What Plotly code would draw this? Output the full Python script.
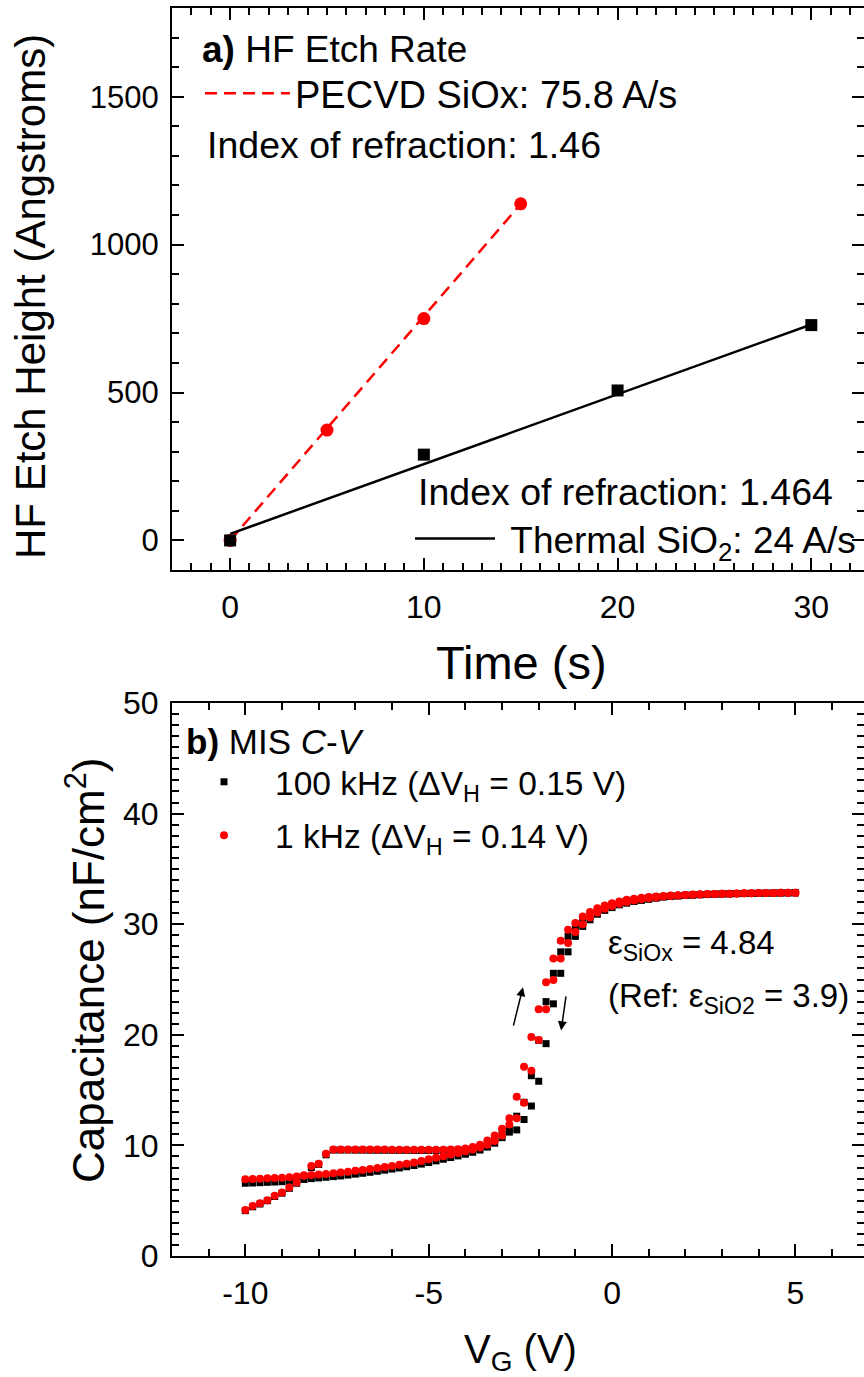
import plotly.graph_objects as go

W, H = 864, 1377
FONT = "Liberation Sans, Arial, sans-serif"

# ---------------- panel a: HF etch rate ----------------
time_pecvd = [0, 5, 10, 15]
height_pecvd = [0, 373, 750, 1138]
time_thermal = [0, 10, 20, 30]
height_thermal = [0, 290, 507, 728]
pecvd_fit_time = [0, 15]
pecvd_fit_height = [0, 1137]
thermal_fit_time = [0, 30]
thermal_fit_height = [22, 730]

# ---------------- panel b: MIS C-V ----------------
vg = [-10.0, -9.8, -9.6, -9.4, -9.2, -9.0, -8.8, -8.6, -8.4, -8.2,
      -8.0, -7.8, -7.6, -7.4, -7.2, -7.0, -6.8, -6.6, -6.4, -6.2,
      -6.0, -5.8, -5.6, -5.4, -5.2, -5.0, -4.8, -4.6, -4.4, -4.2,
      -4.0, -3.8, -3.6, -3.4, -3.2, -3.0, -2.8, -2.6, -2.4, -2.2,
      -2.0, -1.8, -1.6, -1.4, -1.2, -1.0, -0.8, -0.6, -0.4, -0.2,
      0.0, 0.2, 0.4, 0.6, 0.8, 1.0, 1.2, 1.4, 1.6, 1.8,
      2.0, 2.2, 2.4, 2.6, 2.8, 3.0, 3.2, 3.4, 3.6, 3.8,
      4.0, 4.2, 4.4, 4.6, 4.8, 5.0]

c_1k_fwd = [4.17, 4.53, 4.77, 5.05, 5.44, 5.74, 6.19, 6.64, 7.30, 8.14,
            8.35, 9.25, 9.64, 9.64, 9.64, 9.63, 9.63, 9.62, 9.62, 9.62,
            9.61, 9.61, 9.61, 9.60, 9.60, 9.60, 9.60, 9.61, 9.62, 9.65,
            9.72, 9.85, 10.05, 10.45, 10.90, 11.50, 12.45, 14.40, 17.10, 19.80,
            22.30, 24.75, 26.90, 28.50, 29.50, 30.10, 30.70, 31.10, 31.45, 31.70,
            31.90, 32.05, 32.20, 32.30, 32.40, 32.45, 32.50, 32.55, 32.60, 32.62,
            32.65, 32.68, 32.70, 32.72, 32.74, 32.75, 32.76, 32.78, 32.79, 32.80,
            32.81, 32.82, 32.83, 32.84, 32.85, 32.85]
c_1k_rev = [6.94, 6.96, 6.99, 7.02, 7.05, 7.08, 7.12, 7.18, 7.26, 7.33,
            7.38, 7.42, 7.48, 7.54, 7.62, 7.70, 7.78, 7.87, 7.96, 8.05,
            8.14, 8.24, 8.35, 8.46, 8.60, 8.74, 8.88, 9.02, 9.17, 9.32,
            9.47, 9.62, 9.80, 10.05, 10.40, 10.90, 11.90, 12.45, 13.86, 16.75,
            19.53, 22.30, 24.95, 26.90, 28.30, 29.30, 30.00, 30.60, 31.05, 31.40,
            31.65, 31.85, 32.00, 32.15, 32.25, 32.35, 32.42, 32.50, 32.55, 32.60,
            32.63, 32.66, 32.69, 32.71, 32.73, 32.75, 32.76, 32.78, 32.79, 32.80,
            32.81, 32.82, 32.83, 32.84, 32.85, 32.85]
c_100k_fwd = [4.10, 4.45, 4.70, 5.00, 5.38, 5.68, 6.12, 6.58, 7.20, 8.00,
              8.28, 9.15, 9.58, 9.58, 9.58, 9.57, 9.57, 9.56, 9.56, 9.56,
              9.55, 9.55, 9.55, 9.54, 9.54, 9.54, 9.54, 9.55, 9.56, 9.58,
              9.62, 9.72, 9.88, 10.20, 10.60, 11.00, 11.50, 12.64, 13.90, 16.30,
              19.50, 23.00, 25.56, 27.50, 28.90, 29.70, 30.40, 30.90, 31.30, 31.60,
              31.80, 32.00, 32.10, 32.20, 32.30, 32.40, 32.45, 32.50, 32.55, 32.58,
              32.62, 32.65, 32.68, 32.70, 32.72, 32.74, 32.75, 32.77, 32.78, 32.79,
              32.80, 32.81, 32.82, 32.83, 32.84, 32.84]
c_100k_rev = [6.58, 6.60, 6.63, 6.66, 6.69, 6.72, 6.76, 6.82, 6.92, 7.00,
              7.06, 7.12, 7.18, 7.24, 7.32, 7.40, 7.48, 7.57, 7.66, 7.76,
              7.86, 7.96, 8.07, 8.18, 8.31, 8.45, 8.60, 8.75, 8.90, 9.05,
              9.20, 9.38, 9.58, 9.85, 10.20, 10.70, 11.20, 11.40, 12.34, 13.56,
              15.80, 19.20, 22.80, 25.56, 27.50, 28.90, 29.80, 30.40, 30.90, 31.25,
              31.50, 31.75, 31.90, 32.05, 32.15, 32.25, 32.35, 32.45, 32.50, 32.55,
              32.60, 32.63, 32.66, 32.69, 32.71, 32.73, 32.75, 32.76, 32.77, 32.78,
              32.79, 32.80, 32.81, 32.82, 32.83, 32.84]

vg_tick_vals = [-10, -5, 0, 5]
vg_tick_text = ["-10", "-5", "0", "5"]

# sweep-direction arrows (tail -> head), data coordinates
arrow_up = dict(tail=(-2.70, 20.7), head=(-2.43, 24.3))
arrow_down = dict(tail=(-1.25, 23.6), head=(-1.39, 20.4))

RED = "#ff0000"
NB = "\u00a0"

fig = go.Figure()

# panel a traces
fig.add_trace(go.Scatter(x=pecvd_fit_time, y=pecvd_fit_height, mode="lines",
                         line=dict(color=RED, width=2.5, dash="12px,7px"),
                         name="PECVD SiOx: 75.8 A/s", legend="legend",
                         xaxis="x", yaxis="y"))
fig.add_trace(go.Scatter(x=thermal_fit_time, y=thermal_fit_height, mode="lines",
                         line=dict(color="black", width=2.5),
                         name=NB + "Thermal SiO<sub>2</sub>: 24 A/s", legend="legend2",
                         xaxis="x", yaxis="y"))
fig.add_trace(go.Scatter(x=time_pecvd, y=height_pecvd, mode="markers",
                         marker=dict(symbol="circle", size=13, color=RED),
                         showlegend=False, xaxis="x", yaxis="y"))
fig.add_trace(go.Scatter(x=time_thermal, y=height_thermal, mode="markers",
                         marker=dict(symbol="square", size=12, color="black"),
                         showlegend=False, xaxis="x", yaxis="y"))

# panel b traces
fig.add_trace(go.Scatter(x=vg, y=c_100k_rev, mode="markers",
                         marker=dict(symbol="square", size=7, color="black"),
                         showlegend=False, xaxis="x2", yaxis="y2"))
fig.add_trace(go.Scatter(x=vg, y=c_100k_fwd, mode="markers",
                         marker=dict(symbol="square", size=7, color="black"),
                         name="100 kHz (\u0394V<sub>H</sub> = 0.15 V)", legend="legend3",
                         legendgroup="a", xaxis="x2", yaxis="y2"))
fig.add_trace(go.Scatter(x=vg, y=c_1k_rev, mode="markers",
                         marker=dict(symbol="circle", size=8, color=RED),
                         showlegend=False, xaxis="x2", yaxis="y2"))
fig.add_trace(go.Scatter(x=vg, y=c_1k_fwd, mode="markers",
                         marker=dict(symbol="circle", size=8, color=RED),
                         name="1 kHz (\u0394V<sub>H</sub> = 0.14 V)", legend="legend3",
                         legendgroup="b", xaxis="x2", yaxis="y2"))


def px_x(x):
    return x / W


def px_y(y):
    return 1 - y / H


def axis_style(tick_size, minor_dtick, standoff):
    return dict(showline=True, linecolor="black", linewidth=2, mirror="ticks",
                ticks="inside", ticklen=12, tickwidth=2, tickcolor="black",
                showgrid=False, zeroline=False, automargin=False,
                tickfont=dict(size=tick_size, color="black", family=FONT),
                ticklabelstandoff=standoff,
                minor=dict(ticks="inside", ticklen=7, tickwidth=1.5,
                           tickcolor="black", dtick=minor_dtick, showgrid=False))


xa = axis_style(32, 1, 8)
xa.update(domain=[px_x(172), 1.0], range=[-3, 32.72], tick0=0, dtick=10, anchor="y")
ya = axis_style(31, 100, 5)
ya.update(domain=[px_y(570), px_y(8)], range=[-100, 1800], tick0=0, dtick=500, anchor="x")
xb = axis_style(32, 1, 8)
xb.update(domain=[px_x(172), 1.0], range=[-12, 6.87], tickvals=vg_tick_vals,
          ticktext=vg_tick_text, anchor="y2")
xb["minor"].update(tick0=0)
yb = axis_style(32, 1, 5)
yb.update(domain=[px_y(1256), px_y(703)], range=[0, 50], tick0=0, dtick=10, anchor="x2")

annotations = [
    dict(text="Index of refraction: 1.46", x=px_x(205), y=px_y(145), xref="paper", yref="paper",
         xanchor="left", yanchor="middle", showarrow=False, font=dict(size=37.5)),
    dict(text="Index of refraction: 1.464", x=px_x(416), y=px_y(492), xref="paper", yref="paper",
         xanchor="left", yanchor="middle", showarrow=False, font=dict(size=37.5)),
    dict(text="Time (s)", x=px_x(521), y=px_y(662), xref="paper", yref="paper",
         xanchor="center", yanchor="middle", showarrow=False, font=dict(size=47)),
    dict(text="HF Etch Height (Angstroms)", x=px_x(30), y=px_y(297), xref="paper", yref="paper",
         xanchor="center", yanchor="middle", textangle=-90, showarrow=False, font=dict(size=42)),
    dict(text="\u03b5<sub>SiOx</sub> = 4.84", x=px_x(606), y=px_y(945), xref="paper", yref="paper",
         xanchor="left", yanchor="middle", showarrow=False, font=dict(size=33)),
    dict(text="(Ref: \u03b5<sub>SiO2</sub> = 3.9)", x=px_x(606), y=px_y(998), xref="paper", yref="paper",
         xanchor="left", yanchor="middle", showarrow=False, font=dict(size=33)),
    dict(text="V<sub>G</sub> (V)", x=px_x(520), y=px_y(1352), xref="paper", yref="paper",
         xanchor="center", yanchor="middle", showarrow=False, font=dict(size=40)),
    dict(text="Capacitance (nF/cm<sup>2</sup>)", x=px_x(85), y=px_y(970), xref="paper", yref="paper",
         xanchor="center", yanchor="middle", textangle=-90, showarrow=False, font=dict(size=44)),
]
for arr in (arrow_up, arrow_down):
    annotations.append(dict(text="", x=arr["head"][0], y=arr["head"][1],
                            ax=arr["tail"][0], ay=arr["tail"][1],
                            xref="x2", yref="y2", axref="x2", ayref="y2",
                            showarrow=True, arrowhead=2, arrowsize=1.2, arrowwidth=1.5,
                            arrowcolor="black"))

fig.update_layout(
    width=W, height=H, margin=dict(l=0, r=0, t=0, b=0, autoexpand=False),
    paper_bgcolor="white", plot_bgcolor="white",
    font=dict(family=FONT, color="black"),
    xaxis=xa, yaxis=ya, xaxis2=xb, yaxis2=yb,
    annotations=annotations,
    legend=dict(x=px_x(200), y=px_y(14), xanchor="left", yanchor="top",
                bgcolor="rgba(0,0,0,0)", font=dict(size=38), itemwidth=85,
                title=dict(text="<b>a)</b> HF Etch Rate", font=dict(size=37))),
    legend2=dict(x=px_x(410), y=px_y(508), xanchor="left", yanchor="top",
                 bgcolor="rgba(0,0,0,0)", font=dict(size=37), itemwidth=80),
    legend3=dict(x=px_x(184), y=px_y(708), xanchor="left", yanchor="top",
                 bgcolor="rgba(0,0,0,0)", font=dict(size=33.5), itemwidth=92,
                 tracegroupgap=7, itemsizing="trace", indentation=-11,
                 title=dict(text="<b>b)</b> MIS <i>C</i>-<i>V</i>", font=dict(size=35))),
)

fig.write_html("out.html")
